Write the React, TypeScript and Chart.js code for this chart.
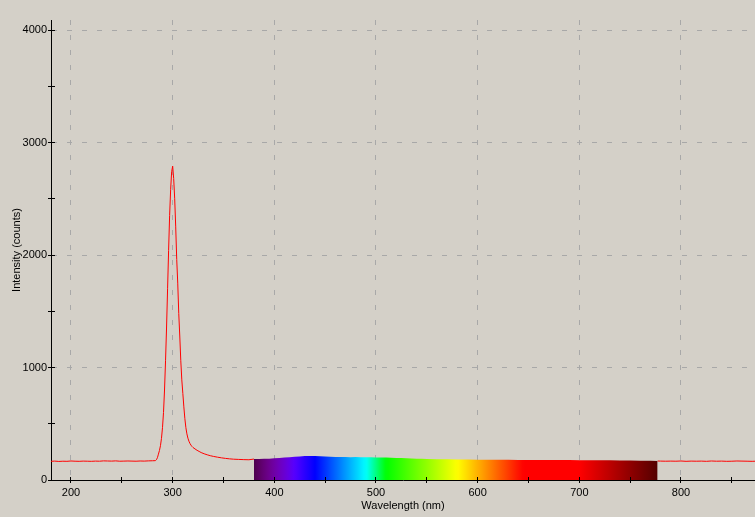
import React, { useEffect, useRef } from 'react';
import { Chart, registerables } from 'chart.js';

Chart.register(...registerables);

// Wavelength (nm) and intensity (counts)
const wavelengths = [
  180, 184, 188, 192, 196, 200, 204, 208, 212, 216, 220, 224, 228, 232, 236, 240, 244, 248, 252, 256,
  260, 264, 268, 272, 276, 280, 283, 284, 285, 286, 287, 288, 289, 290, 291, 292, 293, 294, 295, 296,
  297, 298, 299, 300, 301, 302, 303, 304, 305, 306, 307, 308, 309, 310, 311, 312, 313, 314, 315, 316,
  317, 318, 319, 320, 322, 324, 326, 328, 331, 334, 337, 340, 344, 348, 352, 356, 360, 365, 370, 375,
  380, 385, 390, 395, 400, 405, 410, 415, 420, 425, 430, 435, 440, 445, 450, 455, 460, 465, 470, 475,
  480, 485, 490, 495, 500, 505, 510, 515, 520, 525, 530, 535, 540, 545, 550, 560, 570, 580, 590, 600,
  610, 620, 630, 640, 650, 660, 670, 680, 690, 700, 710, 720, 730, 740, 750, 760, 770, 777, 780, 785,
  790, 795, 800, 805, 810, 815, 820, 825, 830, 835, 840, 845, 850, 855, 860, 865, 870, 873,
];
const counts = [
  166, 168, 165, 167, 166, 169, 167, 166, 168, 167, 166, 168, 167, 170, 169, 168, 170, 167, 168, 169,
  168, 167, 169, 168, 170, 171, 172, 180, 198, 230, 262, 305, 370, 465, 600, 800, 1060, 1360, 1700, 2040,
  2350, 2580, 2740, 2790, 2680, 2500, 2250, 1960, 1750, 1480, 1280, 1060, 890, 770, 650, 545, 465, 410, 372, 345,
  325, 310, 298, 289, 276, 264, 254, 244, 233, 224, 216, 210, 203, 197, 192, 188, 185, 183, 181, 180,
  186, 187, 189, 190, 193, 196, 200, 203, 207, 210, 213, 214, 213, 211, 209, 207, 205, 204, 204, 203,
  204, 203, 202, 202, 201, 200, 199, 197, 196, 195, 193, 191, 190, 188, 187, 185, 184, 183, 182, 181,
  180, 179, 179, 178, 178, 178, 177, 177, 177, 176, 176, 175, 175, 174, 174, 172, 171, 169, 168, 167,
  168, 167, 169, 166, 168, 167, 168, 166, 169, 167, 168, 166, 167, 169, 168, 167, 166, 167,
];

const xTicks = [200, 250, 300, 350, 400, 450, 500, 550, 600, 650, 700, 750, 800, 850];
const yTicks = [0, 500, 1000, 1500, 2000, 2500, 3000, 3500, 4000];
const xLabelStep = 100;
const yLabelStep = 1000;
const spectrumStart = 380;
const spectrumEnd = 777;

const BG = '#d4d0c8';
const FONT = { family: "'Liberation Sans', Arial, sans-serif", size: 11 };

function wavelengthColor(w: number): string {
  let r = 0, g = 0, b = 0;
  if (w < 440) { r = -(w - 440) / 60; b = 1; }
  else if (w < 490) { g = (w - 440) / 50; b = 1; }
  else if (w < 510) { g = 1; b = -(w - 510) / 20; }
  else if (w < 580) { r = (w - 510) / 70; g = 1; }
  else if (w < 645) { r = 1; g = -(w - 645) / 65; }
  else { r = 1; }
  let f = 1;
  if (w < 420) f = 0.3 + 0.7 * (w - 380) / 40;
  else if (w > 700) f = 0.3 + 0.7 * (780 - w) / 80;
  const c = (v: number) => Math.round(255 * v * f);
  return `rgb(${c(r)},${c(g)},${c(b)})`;
}

function alignPx(p: number) {
  return Math.round(p - 0.5) + 0.5;
}

export default function App() {
  const ref = useRef<HTMLCanvasElement>(null);

  useEffect(() => {
    document.body.style.margin = '0';
    document.body.style.background = BG;
    const points = wavelengths.map((w, i) => ({ x: w, y: counts[i] }));
    const specPoints = points.filter((p) => p.x >= spectrumStart && p.x <= spectrumEnd);

    const innerTicks = {
      id: 'innerTicks',
      afterDraw(chart: any) {
        const { ctx, chartArea } = chart;
        const xs = chart.scales.x;
        const ys = chart.scales.y;
        ctx.save();
        ctx.strokeStyle = '#000';
        ctx.lineWidth = 1;
        ctx.beginPath();
        for (const v of yTicks) {
          const py = alignPx(ys.getPixelForValue(v));
          ctx.moveTo(chartArea.left, py);
          ctx.lineTo(chartArea.left + 4, py);
        }
        for (const v of xTicks) {
          const px = alignPx(xs.getPixelForValue(v));
          ctx.moveTo(px, chartArea.bottom);
          ctx.lineTo(px, chartArea.bottom - 3);
        }
        ctx.stroke();
        ctx.restore();
      },
    };

    const chart = new Chart(ref.current as HTMLCanvasElement, {
      type: 'line',
      data: {
        datasets: [
          {
            data: specPoints,
            order: 0,
            borderWidth: 0,
            pointRadius: 0,
            fill: 'origin',
            tension: 0,
            backgroundColor: (ctx: any) => {
              const ch = ctx.chart;
              const xs = ch.scales.x;
              if (!xs || !ch.chartArea) return 'rgba(0,0,0,0)';
              const x0 = xs.getPixelForValue(spectrumStart);
              const x1 = xs.getPixelForValue(spectrumEnd);
              const grad = ch.ctx.createLinearGradient(x0, 0, x1, 0);
              for (let w = spectrumStart; w <= spectrumEnd; w += 3) {
                grad.addColorStop((w - spectrumStart) / (spectrumEnd - spectrumStart), wavelengthColor(w));
              }
              grad.addColorStop(1, wavelengthColor(spectrumEnd));
              return grad;
            },
          } as any,
          {
            data: points,
            order: 1,
            borderColor: '#ff0000',
            borderWidth: 1,
            pointRadius: 0,
            fill: false,
            tension: 0,
            segment: {
              borderColor: (c: any) => {
                const a = wavelengths[c.p0DataIndex];
                const b = wavelengths[c.p1DataIndex];
                return a >= spectrumStart && b <= spectrumEnd ? 'rgba(0,0,0,0)' : '#ff0000';
              },
            },
          } as any,
        ],
      },
      options: {
        animation: false,
        responsive: false,
        events: [],
        layout: { padding: { top: 20, right: 0, left: 0, bottom: 0 } },
        plugins: { legend: { display: false }, tooltip: { enabled: false } },
        scales: {
          x: {
            type: 'linear',
            min: 180.33,
            max: 872.8,
            afterBuildTicks: (s: any) => {
              s.ticks = xTicks.map((v) => ({ value: v }));
            },
            afterFit: (s: any) => {
              s.height = 37;
            },
            ticks: {
              autoSkip: false,
              maxRotation: 0,
              padding: 3,
              color: '#000',
              font: FONT,
              callback: (v: any) => (Number(v) % xLabelStep === 0 ? String(v) : ''),
            },
            grid: {
              color: (c: any) => (c.tick && c.tick.value % xLabelStep === 0 ? '#a8a8a8' : 'rgba(0,0,0,0)'),
              tickColor: '#000',
              tickLength: 3,
              lineWidth: 1,
            },
            border: { color: '#000', width: 1, dash: [5, 10] },
            title: { display: true, text: 'Wavelength (nm)', color: '#000', font: FONT, padding: 4 },
          },
          y: {
            type: 'linear',
            min: 0,
            max: 4088.9,
            afterBuildTicks: (s: any) => {
              s.ticks = yTicks.map((v) => ({ value: v }));
            },
            afterFit: (s: any) => {
              s.width = 51;
            },
            ticks: {
              autoSkip: false,
              padding: 1,
              color: '#000',
              font: FONT,
              callback: (v: any) => (Number(v) % yLabelStep === 0 ? String(v) : ''),
            },
            grid: {
              color: (c: any) => (c.tick && c.tick.value % yLabelStep === 0 ? '#a8a8a8' : 'rgba(0,0,0,0)'),
              tickColor: '#000',
              tickLength: 3,
              lineWidth: 1,
            },
            border: { color: '#000', width: 1, dash: [5, 10] },
            title: { display: true, text: 'Intensity (counts)', color: '#000', font: FONT, padding: 10 },
          },
        },
      },
      plugins: [innerTicks],
    } as any);

    return () => chart.destroy();
  }, []);

  return (
    <div style={{ width: 755, height: 517, background: BG }}>
      <canvas ref={ref} width={755} height={517} style={{ display: 'block' }} />
    </div>
  );
}
